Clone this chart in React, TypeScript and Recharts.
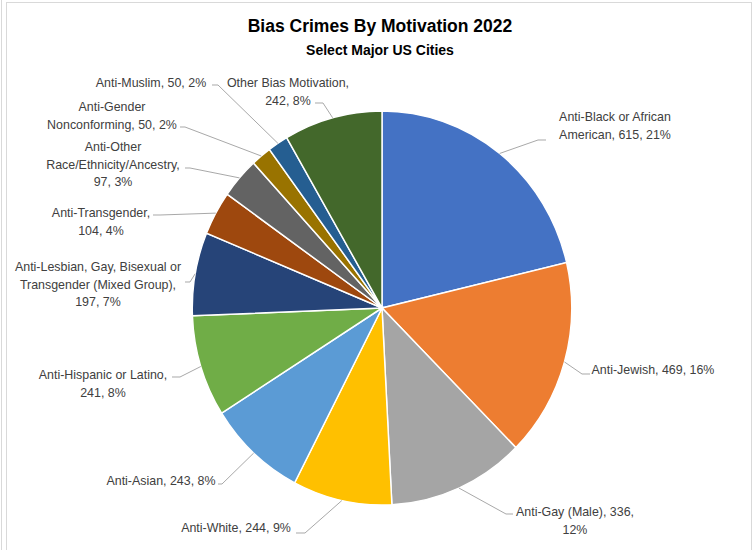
import { PieChart, Pie, Cell } from "recharts";

// Bias crimes 2022, select major US cities
const categories = [
  "Anti-Black or African American",
  "Anti-Jewish",
  "Anti-Gay (Male)",
  "Anti-White",
  "Anti-Asian",
  "Anti-Hispanic or Latino",
  "Anti-Lesbian, Gay, Bisexual or Transgender (Mixed Group)",
  "Anti-Transgender",
  "Anti-Other Race/Ethnicity/Ancestry",
  "Anti-Gender Nonconforming",
  "Anti-Muslim",
  "Other Bias Motivation",
];
const counts = [615, 469, 336, 244, 243, 241, 197, 104, 97, 50, 50, 242];
// percentages as printed by the source chart (rounded to sum to 100)
const percents = [21, 16, 12, 9, 8, 8, 7, 4, 3, 2, 2, 8];

const colors = [
  "#4472C4", "#ED7D31", "#A5A5A5", "#FFC000", "#5B9BD5", "#70AD47",
  "#264478", "#9E480E", "#636363", "#997300", "#255E91", "#43682B",
];

// label placement (page coords): text centre x, first line centre y, word breaks, leader elbow
const labelLayout = [
  { x: 615, y: 117, breaks: [3], ex: 538, ey: 140, hx: 546 },
  { x: 653, y: 370, breaks: [], ex: 582, ey: 374, hx: 590 },
  { x: 575, y: 512, breaks: [3], ex: 506, ey: 514, hx: 513 },
  { x: 236, y: 528, breaks: [], ex: 305, ey: 533, hx: 296 },
  { x: 161, y: 481, breaks: [], ex: 222, ey: 484, hx: 218 },
  { x: 103, y: 375, breaks: [3], ex: 180, ey: 377, hx: 172 },
  { x: 98, y: 267, breaks: [4, 7], ex: 190, ey: 282, hx: 185 },
  { x: 101, y: 213, breaks: [1], ex: 160, ey: 215, hx: 153 },
  { x: 113, y: 147, breaks: [1, 2], ex: 190, ey: 168, hx: 185 },
  { x: 112, y: 107, breaks: [1], ex: 185, ey: 127, hx: 180 },
  { x: 151, y: 83, breaks: [], ex: 218, ey: 85, hx: 212 },
  { x: 288, y: 83, breaks: [3], ex: 323, ey: 103, hx: 315 },
];

const data = categories.map((name, i) => ({ name, value: counts[i], pct: percents[i] }));

const FONT = "'Liberation Sans', Arial, sans-serif";
const RAD = Math.PI / 180;
const CX = 382;
const SX = 0.963; // the source pie is slightly narrower than tall
const ux = (x: number) => CX + (x - CX) / SX;

function wrap(text: string, breaks: number[]) {
  const words = text.split(" ");
  const lines: string[] = [];
  let start = 0;
  [...breaks, words.length].forEach((b) => {
    lines.push(words.slice(start, b).join(" "));
    start = b;
  });
  return lines;
}

const renderLabel = (props: any) => {
  const { cx, cy, midAngle, outerRadius, index } = props;
  const lay = labelLayout[index];
  const d = data[index];
  const sx = cx + outerRadius * Math.cos(-midAngle * RAD);
  const sy = cy + outerRadius * Math.sin(-midAngle * RAD);
  const lines = wrap(`${d.name}, ${d.value}, ${d.pct}%`, lay.breaks);
  return (
    <g key={`lbl-${index}`}>
      <polyline
        points={`${sx},${sy} ${ux(lay.ex)},${lay.ey} ${ux(lay.hx)},${lay.ey}`}
        fill="none"
        stroke="#A6A6A6"
        strokeWidth={1}
      />
      {lines.map((ln, j) => (
        <text
          key={j}
          x={ux(lay.x)}
          y={lay.y + j * 17.5}
          textAnchor="middle"
          dominantBaseline="central"
          fontSize={12.9}
          fontFamily={FONT}
          fill="#404040"
        >
          {ln}
        </text>
      ))}
    </g>
  );
};

export default function App() {
  return (
    <div style={{ position: "fixed", left: 0, top: 0, width: 755, height: 550, background: "#fff", overflow: "hidden" }}>
      <div style={{ position: "absolute", left: 1, top: 0, width: 1, height: 550, background: "#D9D9D9" }} />
      <div
        style={{
          position: "absolute",
          left: 6,
          top: 2,
          width: 746,
          height: 560,
          border: "1px solid #D9D9D9",
          boxSizing: "border-box",
        }}
      />
      <div
        style={{
          position: "absolute",
          left: 0,
          top: 16,
          width: 760,
          textAlign: "center",
          fontFamily: FONT,
          fontWeight: "bold",
          fontSize: 17.5,
          color: "#000",
        }}
      >
        Bias Crimes By Motivation 2022
      </div>
      <div
        style={{
          position: "absolute",
          left: 0,
          top: 42,
          width: 760,
          textAlign: "center",
          fontFamily: FONT,
          fontWeight: "bold",
          fontSize: 14,
          color: "#000",
        }}
      >
        Select Major US Cities
      </div>
      <div
        style={{
          position: "absolute",
          left: 0,
          top: 0,
          transform: `scaleX(${SX})`,
          transformOrigin: `${CX}px 0px`,
        }}
      >
        <PieChart width={755} height={550} margin={{ top: 0, right: 0, bottom: 0, left: 0 }}>
          <Pie
            data={data}
            dataKey="value"
            nameKey="name"
            cx={CX}
            cy={308}
            outerRadius={197}
            startAngle={90}
            endAngle={-270}
            stroke="#FFFFFF"
            strokeWidth={1.5}
            label={renderLabel}
            labelLine={false}
            isAnimationActive={false}
          >
            {data.map((_, i) => (
              <Cell key={i} fill={colors[i]} />
            ))}
          </Pie>
        </PieChart>
      </div>
    </div>
  );
}
